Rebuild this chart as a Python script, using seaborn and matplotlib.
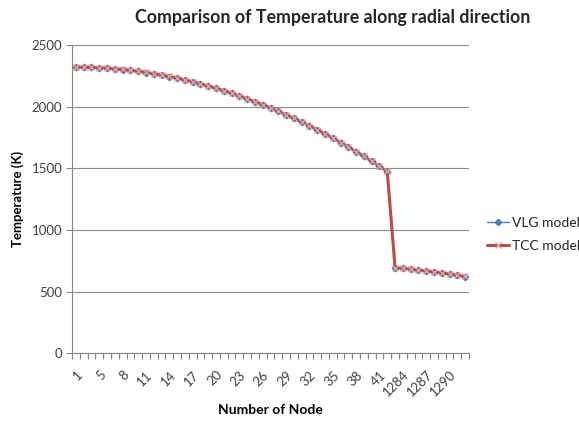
import matplotlib
matplotlib.use("Agg")
import matplotlib.pyplot as plt
import seaborn as sns
import pandas as pd
from matplotlib.ticker import FixedLocator

# ---- data ----
nodes = ["1"] + [str(n) for n in range(3, 43)] + [str(n) for n in range(1283, 1293)]
vlg_temp = [2320, 2319, 2318, 2315, 2312, 2307, 2301, 2294, 2286, 2277,
            2267, 2256, 2244, 2231, 2216, 2201, 2185, 2167, 2149, 2129,
            2108, 2087, 2064, 2040, 2015, 1989, 1962, 1934, 1905, 1875,
            1844, 1812, 1778, 1744, 1708, 1672, 1634, 1596, 1556, 1515,
            1474,
            694, 688, 681, 674, 667, 659, 651, 642, 632, 622]
tcc_temp = [2321, 2320, 2318, 2316, 2312, 2307, 2302, 2295, 2287, 2278,
            2268, 2257, 2245, 2232, 2217, 2202, 2186, 2168, 2150, 2130,
            2109, 2088, 2065, 2041, 2016, 1990, 1963, 1935, 1906, 1876,
            1845, 1813, 1779, 1745, 1709, 1673, 1635, 1597, 1557, 1516,
            1475,
            695, 689, 682, 675, 668, 660, 652, 643, 633, 623]
y_ticks = [0, 500, 1000, 1500, 2000, 2500]

df = pd.DataFrame({"node": nodes, "VLG model": vlg_temp, "TCC model": tcc_temp})

sns.set_style("white")
plt.rcParams["font.family"] = ["Lato", "DejaVu Sans"]

fig = plt.figure(figsize=(5.79, 4.23), dpi=100)
ax = fig.add_axes([0.1244, 0.1648, 0.810 - 0.1244, 0.8936 - 0.1648])

blue = "#4A7EBB"
red = "#BE4B48"

sns.lineplot(data=df, x="node", y="VLG model", sort=False, ax=ax,
             color=blue, linewidth=1.0, marker="D", markersize=3.5,
             markeredgecolor=blue, markerfacecolor=blue, label="VLG model", zorder=3)
sns.lineplot(data=df, x="node", y="TCC model", sort=False, ax=ax,
             color=red, linewidth=2.2, marker="x", markersize=5,
             markeredgecolor="#D8A3A1", markeredgewidth=1.0, label="TCC model", zorder=4)

n = len(nodes)
ax.set_xlim(-0.5, n - 0.5)
ax.set_ylim(0, 2500)
ax.set_yticks(y_ticks)
major = list(range(0, n, 3))
ax.xaxis.set_major_locator(FixedLocator(major))
ax.set_xticklabels([nodes[i] for i in major], rotation=45, ha="right",
                   rotation_mode="anchor", fontsize=9.5, color="#404040")
ax.xaxis.set_minor_locator(FixedLocator([i - 0.5 for i in range(n + 1)]))
ax.tick_params(axis="x", which="major", length=0, pad=11)
ax.tick_params(axis="x", which="minor", length=4, width=0.8, color="#868686", direction="out", bottom=True)
ax.tick_params(axis="y", which="major", length=4, width=0.8, color="#868686", direction="out",
               labelsize=9.5, labelcolor="#404040", left=True, pad=3)

ax.yaxis.grid(True, color="#8C8C8C", linewidth=0.8)
ax.xaxis.grid(False)
ax.set_axisbelow(True)
for s in ["top", "right"]:
    ax.spines[s].set_visible(False)
for s in ["left", "bottom"]:
    ax.spines[s].set_color("#868686")
    ax.spines[s].set_linewidth(0.8)

ax.set_xlabel("Number of Node", fontsize=10, fontweight="bold", color="#000000", va="center")
ax.xaxis.set_label_coords(0.5, -0.184)
ax.set_ylabel("Temperature (K)", fontsize=9.5, fontweight="bold", color="#000000", va="center")
ax.yaxis.set_label_coords(-0.136, 0.5)
fig.suptitle("Comparison of Temperature along radial direction", x=0.575, y=0.978,
             fontsize=12.8, fontweight="bold")

ax.legend(loc="center left", bbox_to_anchor=(1.02, 0.385), frameon=False,
          fontsize=10, handlelength=1.6, handletextpad=0.2, labelspacing=0.8,
          borderaxespad=0.3)

fig.savefig("out.png", dpi=100)
